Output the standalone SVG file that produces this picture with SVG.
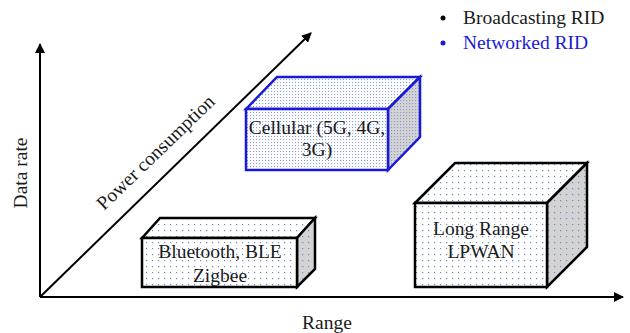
<svg xmlns="http://www.w3.org/2000/svg" width="630" height="333" viewBox="0 0 630 333">
  <style>
    .lbl { font-family: "Liberation Serif", "Times New Roman", serif; font-size: 19.5px; fill: #1a1a1a; }
    .axis { stroke: #000; stroke-width: 2; fill: none; }
    .box { stroke: #000; stroke-width: 2.5; stroke-linejoin: miter; }
    .net { stroke: #1a1ad6; }
  </style>
  <defs>
    <marker id="arrow" viewBox="0 0 10 10" refX="9" refY="5" markerWidth="5" markerHeight="5" orient="auto" markerUnits="strokeWidth">
      <path d="M0,0 L10,5 L0,10 z" fill="#000"/>
    </marker>
    <pattern id="dotsSparse" width="6" height="6" patternUnits="userSpaceOnUse">
      <rect width="6" height="6" fill="#fff"/>
      <rect x="2" y="2" width="1.2" height="1.2" fill="#6d8ad8"/>
    </pattern>
    <pattern id="dotsSparseSide" width="6" height="6" patternUnits="userSpaceOnUse">
      <rect width="6" height="6" fill="#d3d3d3"/>
      <rect x="2" y="2" width="1.2" height="1.2" fill="#6d8ad8"/>
    </pattern>
    <pattern id="dotsDense" width="3" height="3" patternUnits="userSpaceOnUse">
      <rect width="3" height="3" fill="#fff"/>
      <rect x="1" y="1" width="1.1" height="1.1" fill="#8aa2dc"/>
    </pattern>
    <pattern id="dotsDenseSide" width="3" height="3" patternUnits="userSpaceOnUse">
      <rect width="3" height="3" fill="#d3d3d3"/>
      <rect x="1" y="1" width="1.1" height="1.1" fill="#8a9ad0"/>
    </pattern>
  </defs>

  <!-- axes -->
  <g id="connectors">
    <line class="axis" x1="40" y1="297" x2="40" y2="44" marker-end="url(#arrow)"/>
    <line class="axis" x1="40" y1="297" x2="623" y2="297" marker-end="url(#arrow)"/>
    <line class="axis" x1="40" y1="297" x2="311" y2="33" marker-end="url(#arrow)"/>
  </g>

  <!-- axis labels -->
  <g id="axis-labels">
    <text class="lbl" x="327" y="329" text-anchor="middle">Range</text>
    <text class="lbl" transform="translate(27,173) rotate(-90)" text-anchor="middle">Data rate</text>
    <text class="lbl" transform="translate(160,157) rotate(-44)" text-anchor="middle">Power consumption</text>
  </g>

  <!-- legend -->
  <g id="legend">
    <circle cx="443" cy="18" r="2.5" fill="#000"/>
    <text class="lbl" x="463" y="24">Broadcasting RID</text>
    <circle cx="443" cy="43" r="2.5" fill="#1a1ad6"/>
    <text class="lbl" x="463" y="49" style="fill:#1a1ad6">Networked RID</text>
  </g>

  <!-- cellular box -->
  <g id="cellular">
    <polygon class="box net" points="246,109 277,77 420,77 388,109" fill="url(#dotsDense)"/>
    <polygon class="box net" points="388,109 420,77 420,137 388,170" fill="url(#dotsDenseSide)"/>
    <rect class="box net" x="246" y="109" width="142" height="61" fill="url(#dotsDense)"/>
    <text class="lbl" x="317" y="134" text-anchor="middle">Cellular (5G, 4G,</text>
    <text class="lbl" x="317" y="156" text-anchor="middle">3G)</text>
  </g>

  <!-- bluetooth box -->
  <g id="bluetooth">
    <polygon class="box" points="142,238 160,218 315,218 297,238" fill="url(#dotsSparse)"/>
    <polygon class="box" points="297,238 315,218 315,269 297,287" fill="url(#dotsSparseSide)"/>
    <rect class="box" x="142" y="238" width="155" height="49" fill="url(#dotsSparse)"/>
    <text class="lbl" x="220" y="258" text-anchor="middle">Bluetooth, BLE</text>
    <text class="lbl" x="220" y="282" text-anchor="middle">Zigbee</text>
  </g>

  <!-- long range box -->
  <g id="lpwan">
    <polygon class="box" points="415,203 455,163 587,163 547,203" fill="url(#dotsSparse)"/>
    <polygon class="box" points="547,203 587,163 587,247 547,287" fill="url(#dotsSparseSide)"/>
    <rect class="box" x="415" y="203" width="132" height="84" fill="url(#dotsSparse)"/>
    <text class="lbl" x="481" y="235" text-anchor="middle">Long Range</text>
    <text class="lbl" x="481" y="258" text-anchor="middle">LPWAN</text>
  </g>
</svg>
